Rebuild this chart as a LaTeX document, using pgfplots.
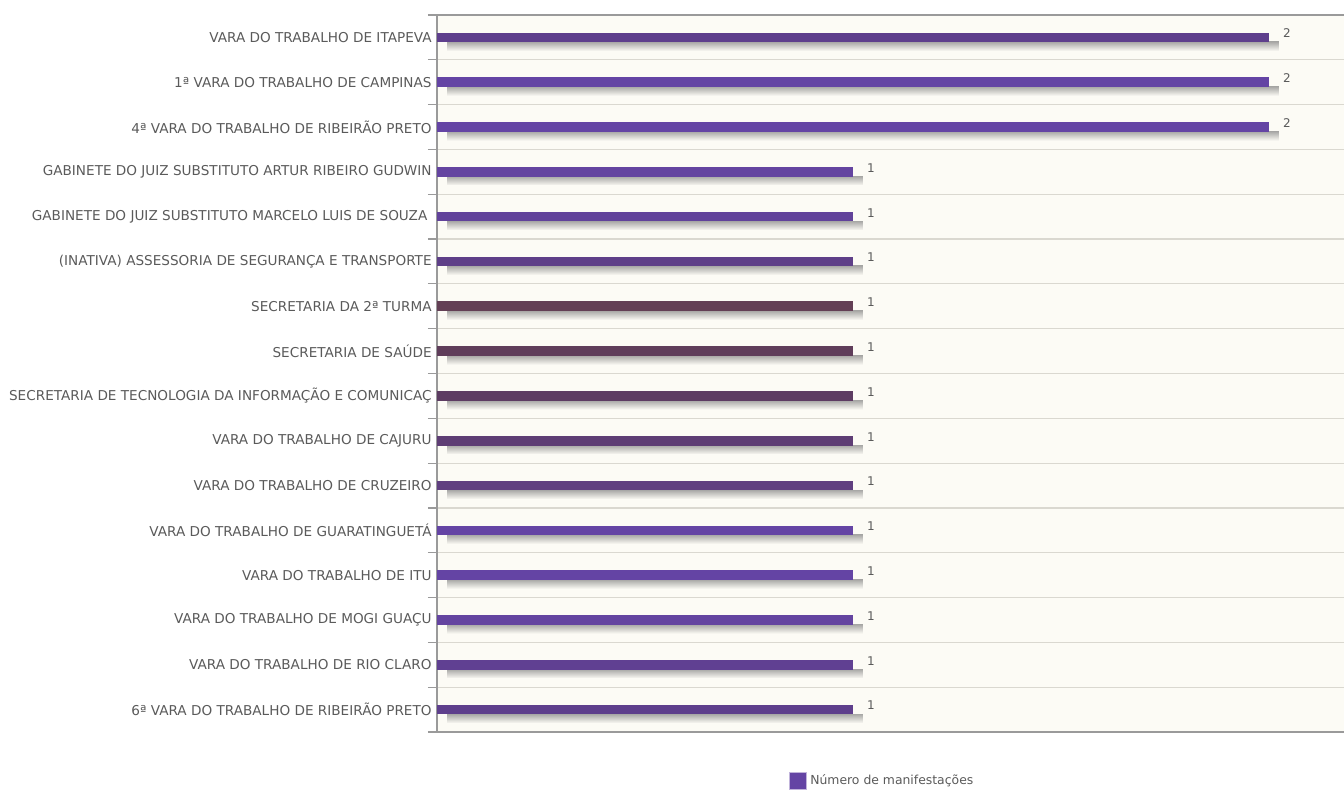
\documentclass[border=0pt]{standalone}
\usepackage{pgfplots}
\pgfplotsset{compat=1.18}
\usepackage{fontspec}
\setmainfont{DejaVu Sans}
\usetikzlibrary{shadows,fadings}

\definecolor{bgcol}{HTML}{FCFBF5}
\definecolor{gridcol}{HTML}{DAD8D0}
\definecolor{axcol}{HTML}{9A9A9A}
\definecolor{txtcol}{HTML}{5A5A5A}
\definecolor{ca}{HTML}{5E3F8C}
\definecolor{cb}{HTML}{6444A4}
\definecolor{cc}{HTML}{6444A4}
\definecolor{cd}{HTML}{6444A0}
\definecolor{ce}{HTML}{61429A}
\definecolor{cf}{HTML}{5E3F88}
\definecolor{cg}{HTML}{633F55}
\definecolor{ch}{HTML}{5F3D5A}
\definecolor{ci}{HTML}{5D3C62}
\definecolor{cj}{HTML}{5E3D74}
\definecolor{ck}{HTML}{603F80}
\definecolor{cl}{HTML}{6444A4}
\definecolor{cm}{HTML}{6444A4}
\definecolor{cn}{HTML}{6444A0}
\definecolor{co}{HTML}{604092}
\definecolor{cp}{HTML}{5E3F8C}

\begin{document}
\begin{tikzpicture}
\useasboundingbox (0,0) rectangle (672pt,394.5pt);

\begin{axis}[
  at={(218.5pt,28.5pt)},
  anchor=south west,
  width=456pt,
  height=358.5pt,
  scale only axis,
  xmin=0, xmax=2.192,
  ymin=0.5, ymax=16.5,
  y dir=reverse,
  xtick=\empty,
  ytick={1,2,3,4,5,6,7,8,9,10,11,12,13,14,15,16},
  minor ytick={0.5,1.5,2.5,3.5,4.5,5.5,6.5,7.5,8.5,9.5,10.5,11.5,12.5,13.5,14.5,15.5,16.5},
  minor tick length=4.5pt,
  major tick length=0pt,
  tick align=outside,
  yminorgrids=true,
  minor grid style={gridcol, line width=0.6pt},
  minor tick style={axcol, line width=0.6pt},
  axis line style={axcol, line width=1.1pt},
  axis background/.style={fill=bgcol},
  /pgf/number format/assume math mode=true,
  yticklabel style={font=\fontsize{6.8}{8}\selectfont, text=txtcol, inner sep=0pt, xshift=-2.5pt},
  yticklabels={
    VARA DO TRABALHO DE ITAPEVA,
    1ª VARA DO TRABALHO DE CAMPINAS,
    4ª VARA DO TRABALHO DE RIBEIRÃO PRETO,
    GABINETE DO JUIZ SUBSTITUTO ARTUR RIBEIRO GUDWIN,
    GABINETE DO JUIZ SUBSTITUTO MARCELO LUIS DE SOUZA\ \ ,
    (INATIVA) ASSESSORIA DE SEGURANÇA E TRANSPORTE,
    SECRETARIA DA 2ª TURMA,
    SECRETARIA DE SAÚDE,
    SECRETARIA DE TECNOLOGIA DA INFORMAÇÃO E COMUNICAÇ,
    VARA DO TRABALHO DE CAJURU,
    VARA DO TRABALHO DE CRUZEIRO,
    VARA DO TRABALHO DE GUARATINGUETÁ,
    VARA DO TRABALHO DE ITU,
    VARA DO TRABALHO DE MOGI GUAÇU,
    VARA DO TRABALHO DE RIO CLARO,
    6ª VARA DO TRABALHO DE RIBEIRÃO PRETO},
  xbar,
  bar width=4.8pt,
  bar shift=0pt,
  nodes near coords,
  every node near coord/.append style={font=\fontsize{6}{7}\selectfont, text=txtcol, xshift=3.5pt, yshift=2pt},
  barshadow/.style={draw=none, drop shadow={shadow xshift=5pt, shadow yshift=-4.4pt, opacity=0.7, fill=black!50, path fading=south}},
  legend style={at={(0.385,-0.053)}, anchor=north west, draw=none, fill=none, inner sep=0pt,
    font=\fontsize{6.2}{7}\selectfont, text=txtcol},
]
\addlegendimage{legend image code/.code={\fill[cb, draw=cb!40] (0pt,-4.25pt) rectangle (8.5pt,4.25pt);}}
\addlegendentry{Número de manifestações}
\addplot[barshadow, fill=ca, forget plot] coordinates {(2,1)};
\addplot[barshadow, fill=cb, forget plot] coordinates {(2,2)};
\addplot[barshadow, fill=cc, forget plot] coordinates {(2,3)};
\addplot[barshadow, fill=cd, forget plot] coordinates {(1,4)};
\addplot[barshadow, fill=ce, forget plot] coordinates {(1,5)};
\addplot[barshadow, fill=cf, forget plot] coordinates {(1,6)};
\addplot[barshadow, fill=cg, forget plot] coordinates {(1,7)};
\addplot[barshadow, fill=ch, forget plot] coordinates {(1,8)};
\addplot[barshadow, fill=ci, forget plot] coordinates {(1,9)};
\addplot[barshadow, fill=cj, forget plot] coordinates {(1,10)};
\addplot[barshadow, fill=ck, forget plot] coordinates {(1,11)};
\addplot[barshadow, fill=cl, forget plot] coordinates {(1,12)};
\addplot[barshadow, fill=cm, forget plot] coordinates {(1,13)};
\addplot[barshadow, fill=cn, forget plot] coordinates {(1,14)};
\addplot[barshadow, fill=co, forget plot] coordinates {(1,15)};
\addplot[barshadow, fill=cp, forget plot] coordinates {(1,16)};
\end{axis}
\end{tikzpicture}
\end{document}
